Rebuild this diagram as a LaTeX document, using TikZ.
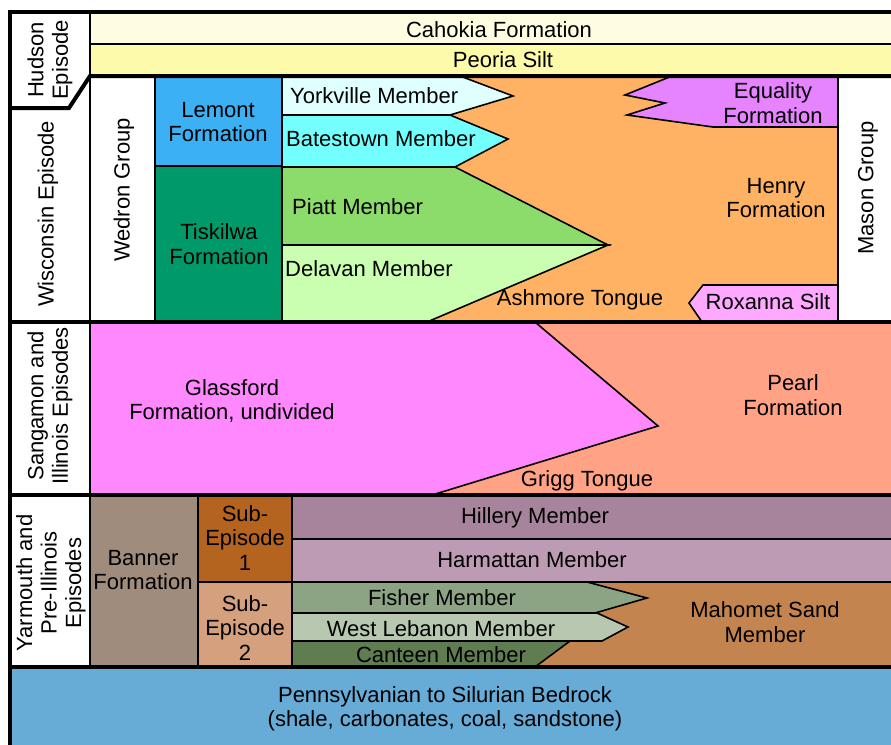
\documentclass[tikz,border=0pt]{standalone}
\usepackage{fontspec}
\setmainfont{Liberation Sans}
\usepackage{xcolor}
\usepackage{tikz}
\usetikzlibrary{calc}
\usetikzlibrary{positioning}

\definecolor{cahokia}{HTML}{FEFDE2}
\definecolor{peoria}{HTML}{FDFBAA}
\definecolor{lemont}{HTML}{3CB0F5}
\definecolor{tiskilwa}{HTML}{009A6A}
\definecolor{yorkville}{HTML}{E0FFFF}
\definecolor{batestown}{HTML}{74FFFF}
\definecolor{piatt}{HTML}{8CDC6C}
\definecolor{delavan}{HTML}{CAFEB0}
\definecolor{henry}{HTML}{FFB264}
\definecolor{equality}{HTML}{E683FF}
\definecolor{roxanna}{HTML}{FFA8FF}
\definecolor{glassford}{HTML}{FF88FF}
\definecolor{pearl}{HTML}{FFA286}
\definecolor{banner}{HTML}{A08C7D}
\definecolor{subone}{HTML}{B4641E}
\definecolor{subtwo}{HTML}{D5A07D}
\definecolor{hillery}{HTML}{A8839C}
\definecolor{harmattan}{HTML}{BD9BB5}
\definecolor{fisher}{HTML}{8CA484}
\definecolor{westleb}{HTML}{B8C8B0}
\definecolor{canteen}{HTML}{5F7D51}
\definecolor{mahomet}{HTML}{C4844F}
\definecolor{bedrock}{HTML}{67ABD7}

\tikzstyle{unit} = [draw=black, line width=1.6pt, line join=miter]
\tikzstyle{heavy} = [draw=black, line width=4pt]
\tikzstyle{lbl} = [draw=none, inner sep=0, align=center, font=\fontsize{22}{24.5}\selectfont]
\tikzstyle{side} = [lbl, rotate=90]

\begin{document}
\begin{tikzpicture}[x=1pt, y=-1pt]
\useasboundingbox (0,0) rectangle (891,744);
\clip (0,0) rectangle (891,744);

% episode column
\filldraw [unit, fill=white] (10,12) -- (90,12) -- (90,76) -- (69,108) -- (10,108) -- cycle;
\filldraw [unit, fill=white] (10,108) -- (69,108) -- (90,76) -- (90,322) -- (10,322) -- cycle;
\filldraw [unit, fill=white] (10,322) rectangle (90,495);
\filldraw [unit, fill=white] (10,495) rectangle (90,667);

% Hudson
\filldraw [unit, fill=cahokia] (90,12) rectangle (895,44);
\filldraw [unit, fill=peoria] (90,44) rectangle (895,76);

% Wisconsin
\filldraw [unit, fill=white] (90,76) rectangle (155,322);
\filldraw [unit, fill=lemont] (155,76) rectangle (282,166);
\filldraw [unit, fill=tiskilwa] (155,166) rectangle (282,322);
\filldraw [unit, fill=henry] (282,76) rectangle (838,322);
\filldraw [unit, fill=yorkville] (282,76) -- (460,76) -- (513,96) -- (450,115) -- (282,115) -- cycle;
\filldraw [unit, fill=batestown] (282,115) -- (450,115) -- (508,139) -- (455,167) -- (282,167) -- cycle;
\filldraw [unit, fill=piatt] (282,167) -- (455,167) -- (608,245) -- (282,245) -- cycle;
\filldraw [unit, fill=delavan] (282,245) -- (608,245) -- (427,322) -- (282,322) -- cycle;
\filldraw [unit, fill=equality] (672,76) -- (838,76) -- (838,127) -- (713,127) -- (627,115) -- (665,103) -- (625,95) -- cycle;
\filldraw [unit, fill=roxanna] (703,285) -- (838,285) -- (838,322) -- (702,322) -- (689,303) -- cycle;
\filldraw [unit, fill=white] (838,76) rectangle (895,322);

% Sangamon and Illinois
\filldraw [unit, fill=pearl] (90,322) rectangle (895,495);
\filldraw [unit, fill=glassford] (90,322) -- (535,322) -- (658,426) -- (432,495) -- (90,495) -- cycle;

% Yarmouth and Pre-Illinois
\filldraw [unit, fill=banner] (90,495) rectangle (198,667);
\filldraw [unit, fill=subone] (198,495) rectangle (292,582);
\filldraw [unit, fill=subtwo] (198,582) rectangle (292,667);
\filldraw [unit, fill=hillery] (292,495) rectangle (895,539);
\filldraw [unit, fill=harmattan] (292,539) rectangle (895,582);
\filldraw [unit, fill=mahomet] (292,582) rectangle (895,667);
\filldraw [unit, fill=fisher] (292,582) -- (587,582) -- (647,598) -- (595,613) -- (292,613) -- cycle;
\filldraw [unit, fill=westleb] (292,613) -- (597,613) -- (628,627) -- (602,641) -- (292,641) -- cycle;
\filldraw [unit, fill=canteen] (292,641) -- (570,641) -- (535,667) -- (292,667) -- cycle;

% bedrock
\fill [bedrock] (10,667) rectangle (895,750);

% heavy boundaries
\draw [heavy] (10,750) -- (10,12) -- (895,12);
\draw [heavy] (10,108) -- (69,108) -- (90,76) -- (895,76);
\draw [heavy] (10,322) -- (895,322);
\draw [heavy] (10,495) -- (895,495);
\draw [heavy] (10,667) -- (895,667);

% labels
\node [side] (hudson) at (50,60) {Hudson\\Episode};
\node [side] (wisconsin) at (48,214) {Wisconsin Episode};
\node [side] (sangamon) at (50,406) {Sangamon and\\Illinois Episodes};
\node [side] (yarmouth) at (51,583) {Yarmouth and\\Pre-Illinois\\Episodes};
\node [lbl] (cahokiaL) at (499,30) {Cahokia Formation};
\node [lbl] (peoriaL) at (503,60) {Peoria Silt};
\node [side] (wedron) at (124,190) {Wedron Group};
\node [side] (mason) at (868,188) {Mason Group};
\node [lbl] (lemontL) at (218,122) {Lemont\\Formation};
\node [lbl] (tiskilwaL) at (219,244) {Tiskilwa\\Formation};
\node [lbl, anchor=west] (yorkvilleL) at (290,96) {Yorkville Member};
\node [lbl, anchor=west] (batestownL) at (286,139) {Batestown Member};
\node [lbl, anchor=west] (piattL) at (292,207) {Piatt Member};
\node [lbl, anchor=west] (delavanL) at (285,269) {Delavan Member};
\node [lbl] (ashmoreL) at (580,300) {Ashmore Tongue};
\node [lbl] (equalityL) at (773,103) {Equality\\Formation};
\node [lbl] (henryL) at (776,198) {Henry\\Formation};
\node [lbl] (roxannaL) at (768,302) {Roxanna Silt};
\node [lbl] (glassfordL) at (232,401) {Glassford\\Formation, undivided};
\node [lbl] (pearlL) at (793,395) {Pearl\\Formation};
\node [lbl] (griggL) at (587,481) {Grigg Tongue};
\node [lbl] (bannerL) at (143,570) {Banner\\Formation};
\node [lbl] (suboneL) at (245,538) {Sub-\\Episode\\1};
\node [lbl] (subtwoL) at (245,628) {Sub-\\Episode\\2};
\node [lbl] (hilleryL) at (535,518) {Hillery Member};
\node [lbl] (harmattanL) at (532,560) {Harmattan Member};
\node [lbl] (fisherL) at (442,598) {Fisher Member};
\node [lbl] (westlebL) at (441,629) {West Lebanon Member};
\node [lbl] (canteenL) at (441,655) {Canteen Member};
\node [lbl] (mahometL) at (765,622) {Mahomet Sand\\Member};
\node [lbl] (bedrockL) at (445,709) {Pennsylvanian to Silurian Bedrock\\(shale, carbonates, coal, sandstone)};
\end{tikzpicture}
\end{document}
